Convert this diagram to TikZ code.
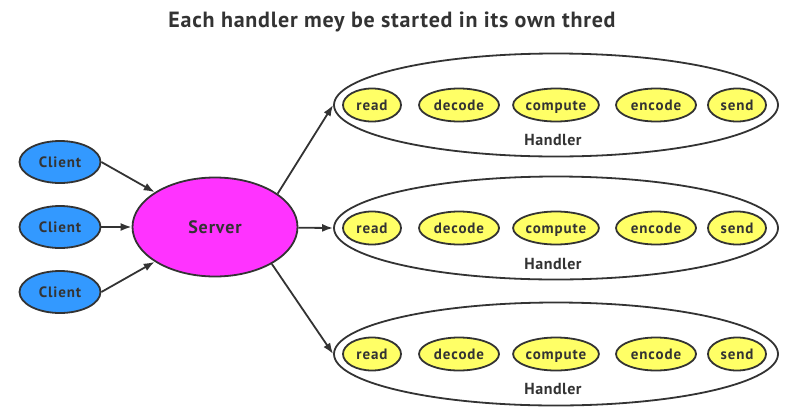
\documentclass[tikz,border=0pt]{standalone}
\usepackage{fontspec}
\setmainfont{PT Sans}
\usetikzlibrary{arrows.meta,shapes.geometric}
\definecolor{lc}{HTML}{333333}
\definecolor{cblue}{HTML}{3399FF}
\definecolor{cmag}{HTML}{FF33FF}
\definecolor{cyel}{HTML}{FFFF66}
\newcommand{\fsz}[2]{\fontsize{#1}{#1}\selectfont\addfontfeature{LetterSpace=#2}}
\tikzset{
  x=1pt,y=-1pt,
  oval/.style={ellipse,draw=lc,line width=1.8pt,inner sep=0pt,text=lc,font=\bfseries,text height=10.5pt,text depth=0pt},
  client/.style={oval,fill=cblue,minimum width=81pt,minimum height=42pt,font=\bfseries\fsz{15}{6}},
  server/.style={oval,fill=cmag,minimum width=165pt,minimum height=99pt,font=\bfseries\fsz{18}{5},text height=12.6pt},
  handler/.style={oval,fill=white,minimum width=444pt,minimum height=103pt},
  task/.style={oval,fill=cyel,minimum height=33pt,font=\bfseries\fsz{15}{6}},
  hlabel/.style={text=lc,font=\bfseries\fsz{16}{3}},
  conn/.style={draw=lc,line width=1.8pt,-{Latex[length=11pt,width=8pt]}}
}
\begin{document}
\begin{tikzpicture}
\useasboundingbox (0,0) rectangle (802,418);
\node[text=lc,font=\bfseries\fsz{22}{3.5}] (title) at (392,22) {Each handler mey be started in its own thred};
\node[client] (c1) at (60,162) {Client};
\node[client] (c2) at (60,227) {Client};
\node[client] (c3) at (60,292) {Client};
\node[server] (s) at (215,227) {Server};
\foreach \n/\y/\ly in {1/105/140, 2/228/264, 3/354/389}{
  \node[handler] (h\n) at (556,\y) {};
  \node[hlabel] (hl\n) at (553,\ly) {Handler};
  \node[task,minimum width=58pt] (r\n) at (372,\y) {read};
  \node[task,minimum width=80pt] (d\n) at (459,\y) {decode};
  \node[task,minimum width=85pt] (p\n) at (556,\y) {compute};
  \node[task,minimum width=80pt] (e\n) at (656,\y) {encode};
  \node[task,minimum width=58pt] (sd\n) at (737,\y) {send};
}
\draw[conn] (c1.east) -- (s.150);
\draw[conn] (c2) -- (s);
\draw[conn] (c3.east) -- (s.210);
\draw[conn] (s.28) -- (h1.west);
\draw[conn] (s) -- (h2.west);
\draw[conn] (s.-33) -- (h3.west);
\end{tikzpicture}
\end{document}
